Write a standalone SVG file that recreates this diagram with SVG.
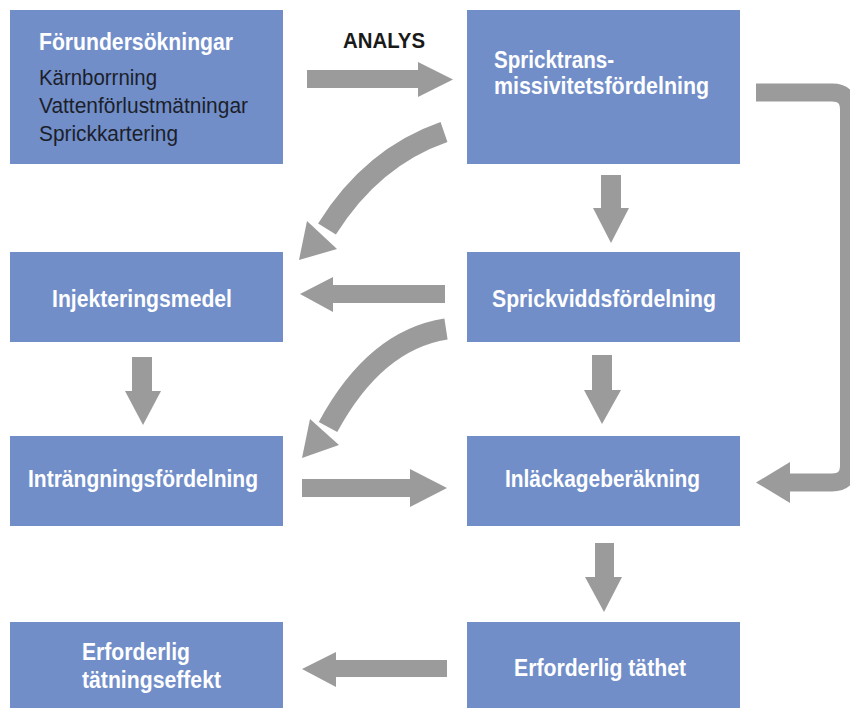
<svg xmlns="http://www.w3.org/2000/svg" width="850" height="708" viewBox="0 0 850 708">
<style>
.box{fill:#718ec9}
.t{font-family:"Liberation Sans",Arial,sans-serif;font-size:23px;font-weight:bold;fill:#ffffff}
.s{font-family:"Liberation Sans",Arial,sans-serif;font-size:22px;fill:#1c1f2b}
.h{font-family:"Liberation Sans",Arial,sans-serif;font-size:22px;font-weight:bold;fill:#1a1a1a}
.arr{fill:#9b9b9b}
.cv{fill:none;stroke:#9b9b9b;stroke-width:21}
.br{fill:none;stroke:#9b9b9b;stroke-width:18}
</style>
<rect width="850" height="708" fill="#ffffff"/>
<g id="n1">
<rect class="box" x="10" y="10" width="273" height="154"/>
<text class="t" x="39" y="50" textLength="194" lengthAdjust="spacingAndGlyphs">Förundersökningar</text>
<text class="s" x="39" y="85" textLength="118" lengthAdjust="spacingAndGlyphs">Kärnborrning</text>
<text class="s" x="39" y="113" textLength="209" lengthAdjust="spacingAndGlyphs">Vattenförlustmätningar</text>
<text class="s" x="39" y="141" textLength="139" lengthAdjust="spacingAndGlyphs">Sprickkartering</text>
</g>
<g id="n2">
<rect class="box" x="467" y="10" width="273" height="154"/>
<text class="t" x="494" y="68" textLength="120" lengthAdjust="spacingAndGlyphs">Spricktrans-</text>
<text class="t" x="494" y="94" textLength="215" lengthAdjust="spacingAndGlyphs">missivitetsfördelning</text>
</g>
<g id="n3">
<rect class="box" x="10" y="252" width="273" height="90"/>
<text class="t" x="52" y="307" textLength="180" lengthAdjust="spacingAndGlyphs">Injekteringsmedel</text>
</g>
<g id="n4">
<rect class="box" x="467" y="252" width="273" height="90"/>
<text class="t" x="492" y="307" textLength="224" lengthAdjust="spacingAndGlyphs">Sprickviddsfördelning</text>
</g>
<g id="n5">
<rect class="box" x="10" y="436" width="273" height="90"/>
<text class="t" x="28" y="487" textLength="230" lengthAdjust="spacingAndGlyphs">Inträngningsfördelning</text>
</g>
<g id="n6">
<rect class="box" x="467" y="436" width="273" height="90"/>
<text class="t" x="505" y="487" textLength="195" lengthAdjust="spacingAndGlyphs">Inläckageberäkning</text>
</g>
<g id="n7">
<rect class="box" x="10" y="622" width="273" height="86"/>
<text class="t" x="82" y="660" textLength="108" lengthAdjust="spacingAndGlyphs">Erforderlig</text>
<text class="t" x="82" y="688" textLength="139" lengthAdjust="spacingAndGlyphs">tätningseffekt</text>
</g>
<g id="n8">
<rect class="box" x="467" y="622" width="273" height="86"/>
<text class="t" x="514" y="676" textLength="172" lengthAdjust="spacingAndGlyphs">Erforderlig täthet</text>
</g>
<g id="connectors">
<text class="h" x="343" y="48" textLength="82" lengthAdjust="spacingAndGlyphs">ANALYS</text>
<polygon class="arr" points="307,70 418,70 418,62 453,79.5 418,97 418,88 307,88"/>
<polygon class="arr" points="601,175 621,175 621,208 629,208 611,243 593,208 601,208"/>
<polygon class="arr" points="592,355 612,355 612,390 621,390 602,424 584,390 592,390"/>
<polygon class="arr" points="595,543 614,543 614,577 622,577 604,612 585,577 595,577"/>
<polygon class="arr" points="132,357 152,357 152,391 161,391 143,425 125,391 132,391"/>
<polygon class="arr" points="445,285 445,303 333,303 333,312 300,294 333,277 333,285"/>
<polygon class="arr" points="302,479 410,479 410,469 447,488 410,507 410,497 302,497"/>
<polygon class="arr" points="447,660 447,677 336,677 336,687 302,669 336,652 336,660"/>
<path class="cv" d="M444,132 Q372,157 327,229"/>
<polygon class="arr" points="337,249 299,260 307,221"/>
<path class="cv" d="M446,329 Q375,340 328,427"/>
<polygon class="arr" points="339,445 302,458 310,419"/>
<path class="br" d="M756,92.5 H832 Q849,92.5 849,110 V465 Q849,482.5 832,482.5 H788"/>
<polygon class="arr" points="790,462 756,482.5 790,503"/>
</g>
</svg>
